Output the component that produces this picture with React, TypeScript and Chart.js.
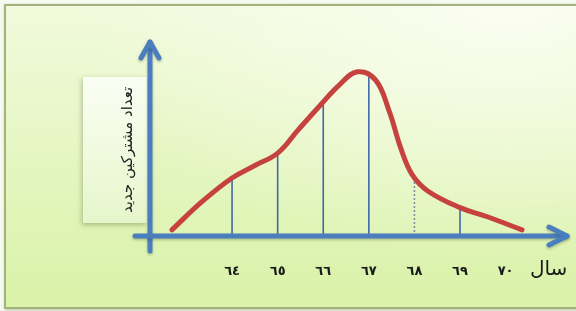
import React, { useEffect, useRef } from "react";
import { Chart, registerables } from "chart.js";

Chart.register(...registerables);

// Smooth curve (year, value)
const curveYears = [62.68, 63.34, 64, 64.5, 65, 65.45, 65.93, 66.35, 66.75, 67.15, 67.45, 67.7, 67.95, 68.3, 69, 69.6, 70.36];
const curveValues = [3.7, 20.7, 35, 42.5, 50, 64, 78.7, 91, 99, 94, 75, 53, 37, 27, 17.1, 11.6, 3.7];

// Vertical drop lines
const dropYears = [64, 65, 66, 67, 68, 69];
const dropValues = [34, 49, 79, 96, 33, 17];
const dottedYear = 68;

// Tick labels
const tickYears = [64, 65, 66, 67, 68, 69, 70];
const tickLabels = ["٦٤", "٦٥", "٦٦", "٦٧", "٦٨", "٦٩", "٧٠"];
const xTitle = "سال";
const yTitle = "تعداد مشترکین جدید";

const AXIS_BLUE = "#4a7ebf";
const LINE_BLUE = "#3f69a8";
const RED = "#c6423f";
const FONT = "'DejaVu Sans', 'Noto Sans', sans-serif";

const decorPlugin = {
  id: "decor",
  beforeDatasetsDraw(chart: any) {
    const { ctx } = chart;
    // y title box
    const bx = 83, by = 77, bw = 64, bh = 146;
    ctx.save();
    ctx.shadowColor = "rgba(60,80,30,0.35)";
    ctx.shadowBlur = 5;
    ctx.shadowOffsetX = -1;
    ctx.shadowOffsetY = 2;
    const g = ctx.createLinearGradient(bx, by, bx, by + bh);
    g.addColorStop(0, "#fbfef4");
    g.addColorStop(1, "#e6f6cb");
    ctx.fillStyle = g;
    ctx.fillRect(bx, by, bw, bh);
    ctx.restore();
    ctx.save();
    ctx.translate(128, by + bh / 2);
    ctx.rotate(-Math.PI / 2);
    ctx.fillStyle = "#222";
    ctx.font = `15px ${FONT}`;
    ctx.textAlign = "center";
    ctx.textBaseline = "middle";
    ctx.direction = "rtl";
    ctx.fillText(yTitle, 0, 0);
    ctx.restore();
  },
  afterDatasetsDraw(chart: any) {
    const { ctx, chartArea, scales } = chart;
    const xs = scales.x;
    const ys = scales.y;
    const ox = chartArea.left;
    const oy = ys.getPixelForValue(0);
    ctx.save();
    ctx.shadowColor = "rgba(40,60,20,0.3)";
    ctx.shadowBlur = 3;
    ctx.shadowOffsetY = 1.5;
    ctx.strokeStyle = AXIS_BLUE;
    ctx.lineWidth = 5;
    ctx.lineCap = "round";
    ctx.lineJoin = "round";
    // vertical axis
    ctx.beginPath();
    ctx.moveTo(ox, oy + 15);
    ctx.lineTo(ox, chartArea.top + 5);
    ctx.stroke();
    ctx.beginPath();
    ctx.moveTo(ox - 9, chartArea.top + 21);
    ctx.lineTo(ox, chartArea.top + 5);
    ctx.lineTo(ox + 9, chartArea.top + 21);
    ctx.stroke();
    // horizontal axis
    const tipX = chartArea.right - 7;
    ctx.beginPath();
    ctx.moveTo(ox - 15, oy);
    ctx.lineTo(tipX, oy);
    ctx.stroke();
    ctx.beginPath();
    ctx.moveTo(tipX - 18, oy - 9);
    ctx.lineTo(tipX, oy);
    ctx.lineTo(tipX - 18, oy + 9);
    ctx.stroke();
    ctx.restore();

    // tick labels
    ctx.save();
    ctx.fillStyle = "#1a1a1a";
    ctx.font = `bold 13px ${FONT}`;
    ctx.textAlign = "center";
    ctx.textBaseline = "middle";
    tickYears.forEach((yr, i) => {
      ctx.fillText(tickLabels[i], xs.getPixelForValue(yr), oy + 36);
    });
    ctx.font = `20px ${FONT}`;
    ctx.direction = "rtl";
    ctx.fillText(xTitle, xs.getPixelForValue(70) + 43, oy + 34);
    ctx.restore();
  },
};

export default function App() {
  const ref = useRef<HTMLCanvasElement | null>(null);
  useEffect(() => {
    document.body.style.margin = "0";
    const canvas = ref.current;
    if (!canvas) return;
    const dropSets = dropYears.map((yr, i) => ({
      type: "line" as const,
      data: [
        { x: yr, y: 0 },
        { x: yr, y: dropValues[i] },
      ],
      borderColor: yr === dottedYear ? "#7a8aa0" : LINE_BLUE,
      borderWidth: yr === dottedYear ? 1.5 : 1.6,
      borderDash: yr === dottedYear ? [2, 2] : [],
      pointRadius: 0,
      tension: 0,
      order: 2,
      clip: false as any,
    }));
    const chart = new Chart(canvas, {
      type: "line",
      data: {
        datasets: [
          {
            data: curveYears.map((x, i) => ({ x, y: curveValues[i] })),
            borderColor: RED,
            borderWidth: 5,
            pointRadius: 0,
            tension: 0.4,
            borderCapStyle: "round",
            borderJoinStyle: "round",
            order: 1,
            clip: false as any,
          },
          ...dropSets,
        ] as any,
      },
      options: {
        animation: false,
        responsive: false,
        layout: { padding: { left: 150, right: 2, top: 37, bottom: 75 } },
        plugins: { legend: { display: false }, tooltip: { enabled: false } },
        scales: {
          x: { type: "linear", display: false, min: 62.2, max: 71.5 },
          y: { type: "linear", display: false, min: 0, max: 120 },
        },
      },
      plugins: [decorPlugin],
    });
    return () => chart.destroy();
  }, []);

  return (
    <div style={{ position: "fixed", left: 0, top: 0, width: 576, height: 311, background: "#f7faf0", overflow: "hidden" }}>
      <div
        style={{
          position: "absolute",
          left: 4,
          top: 4,
          width: 590,
          height: 301,
          border: "2px solid #a3b37c",
          boxShadow: "1px 1px 3px rgba(80,100,40,0.4)",
          background: "radial-gradient(ellipse at 85% 0%, rgba(255,255,250,0.7), rgba(255,255,255,0) 60%), linear-gradient(to bottom, #f1fadc, #d9f2a8)",
        }}
      />
      <canvas ref={ref} width={576} height={311} style={{ position: "absolute", left: 0, top: 0 }} />
    </div>
  );
}
